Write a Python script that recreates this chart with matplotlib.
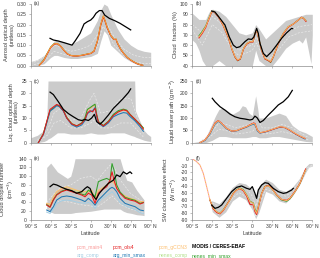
import numpy as np
import matplotlib
matplotlib.use("Agg")
import matplotlib.pyplot as plt

plt.rcParams['font.family'] = ['Liberation Sans', 'DejaVu Sans']

# ---------------- colours / names ----------------
series_names = ["pcm_main4", "pcm_ols4", "pcm_gCCN3", "MODIS / CERES-EBAF",
                "arg_comp", "arg_min_smax", "nenes_comp", "nenes_min_smax"]
series_colors = ["#fb9a99", "#e31a1c", "#fdbf6f", "#000000",
                 "#a6cee3", "#1f78b4", "#b2df8a", "#33a02c"]

xtick_vals = [-90, -60, -30, 0, 30, 60, 90]
xtick_labels = ["90° S", "60° S", "30° S", "0", "30° N", "60° N", "90° N"]

# ---------------- (a) aerosol optical depth ----------------
a_env_lat = [-90, -80, -70, -60, -55, -50, -45, -40, -30, -20, -10, 0, 10, 15, 20, 25, 30, 40, 50, 60, 70, 80, 90]
a_env_hi = [0.02, 0.03, 0.05, 0.09, 0.12, 0.125, 0.12, 0.115, 0.105, 0.12, 0.14, 0.16, 0.22, 0.27, 0.30, 0.29, 0.25, 0.18, 0.13, 0.10, 0.08, 0.07, 0.065]
a_env_lo = [0.0, 0.0, 0.01, 0.04, 0.05, 0.05, 0.045, 0.04, 0.035, 0.035, 0.04, 0.045, 0.06, 0.12, 0.17, 0.15, 0.10, 0.07, 0.04, 0.02, 0.005, 0.0, 0.0]
a_mem_lat = [-90, -70, -55, -45, -30, -15, 0, 10, 18, 25, 35, 50, 65, 80, 90]
a_mem1 = [0.01, 0.04, 0.10, 0.09, 0.07, 0.08, 0.10, 0.15, 0.23, 0.20, 0.14, 0.08, 0.05, 0.04, 0.04]
a_mem2 = [0.0, 0.02, 0.07, 0.06, 0.045, 0.05, 0.06, 0.09, 0.19, 0.17, 0.10, 0.05, 0.02, 0.01, 0.01]
a_lat = [-77, -70, -65, -60, -55, -50, -45, -40, -35, -30, -25, -20, -15, -10, -5, 0, 5, 10, 15, 19, 22, 25, 30, 35, 38, 40, 45, 50, 55, 60, 65, 70, 75, 78]
a_gccn3 = [0.002, 0.028, 0.060, 0.090, 0.106, 0.108, 0.095, 0.075, 0.058, 0.050, 0.048, 0.048, 0.050, 0.053, 0.057, 0.060, 0.072, 0.120, 0.200, 0.243, 0.215, 0.185, 0.148, 0.128, 0.130, 0.112, 0.080, 0.058, 0.040, 0.028, 0.018, 0.010, 0.004, 0.002]
a_ols4 = [0.002, 0.027, 0.058, 0.088, 0.104, 0.107, 0.094, 0.074, 0.057, 0.049, 0.047, 0.047, 0.049, 0.052, 0.056, 0.059, 0.070, 0.118, 0.196, 0.238, 0.212, 0.182, 0.146, 0.127, 0.128, 0.110, 0.079, 0.057, 0.039, 0.027, 0.017, 0.009, 0.004, 0.002]
a_nmin = [0.003, 0.030, 0.061, 0.091, 0.107, 0.108, 0.095, 0.075, 0.058, 0.050, 0.048, 0.048, 0.050, 0.053, 0.057, 0.060, 0.072, 0.119, 0.199, 0.241, 0.214, 0.184, 0.147, 0.128, 0.129, 0.111, 0.080, 0.058, 0.040, 0.028, 0.018, 0.010, 0.004, 0.002]
a_obs_lat = [-61, -56, -48.5, -40, -33, -28, -23, -16, -10, -5, 0, 4, 8, 13, 17, 21, 28, 36, 44, 52, 60]
a_obs = [0.133, 0.125, 0.120, 0.112, 0.105, 0.100, 0.122, 0.157, 0.203, 0.214, 0.222, 0.235, 0.255, 0.268, 0.268, 0.246, 0.230, 0.219, 0.206, 0.190, 0.174]

# ---------------- (b) cloud fraction ----------------
b_env_lat = [-90, -85, -80, -75, -70, -65, -60, -50, -40, -30, -20, -10, 0, 5, 10, 20, 30, 40, 50, 60, 70, 75, 80, 88, 90]
b_env_hi = [91, 88, 85, 85, 85, 92, 95, 93, 88, 80, 72, 70, 72, 80, 76, 66, 72, 78, 84, 86, 88, 89, 90, 90, 90]
b_env_lo = [65, 62, 55, 45, 40, 40, 40, 45, 40, 40, 40, 40, 40, 55, 45, 40, 40, 48, 57, 62, 65, 62, 68, 42, 70]
b_mem_lat = [-90, -75, -60, -45, -30, -20, -10, 0, 6, 15, 25, 40, 55, 70, 90]
b_mem1 = [80, 72, 88, 80, 62, 55, 58, 60, 68, 55, 50, 62, 74, 78, 80]
b_mem2 = [75, 60, 80, 72, 55, 50, 52, 55, 62, 50, 46, 56, 68, 72, 74]
b_lat = [-80, -75, -70, -65, -61, -58, -51, -44, -36, -31, -26, -22, -18, -13, -8, -3, 1, 4, 6.5, 9, 14, 19, 24, 27.5, 31.5, 39, 46.5, 54, 61.5, 69, 74, 77.5, 80.5]
b_gccn3 = [68, 72.5, 78, 86, 92.5, 93, 88, 80, 68, 57, 49, 45.5, 47, 57, 61.7, 63.4, 63.4, 71.5, 74.7, 68.2, 55, 47, 45.5, 44, 48.8, 61.7, 71.5, 78, 80.5, 84.4, 87, 86, 83.8]
b_ols4 = [67, 71.5, 77, 85.5, 92, 92.8, 87.5, 79.5, 67.5, 56.5, 48.5, 45, 46.5, 56.5, 61.2, 63, 63, 71, 74.5, 68, 54.5, 46.5, 45, 43.5, 48.5, 61.2, 71, 77.5, 80.5, 84.4, 87.2, 85.5, 83]
b_nmin = [69, 73.5, 78.5, 86.5, 92.5, 93, 88, 80, 68, 57, 48.5, 44.8, 46.5, 57, 61.7, 63.4, 63.4, 71.5, 74.7, 68.2, 55, 46.8, 45, 43.2, 48.5, 61.7, 71.5, 78, 80.5, 84.4, 87, 86, 83.8]
b_obs_lat = [-61, -56, -48.5, -41, -34.5, -28.5, -23.5, -18.5, -11, -6, -1, 2.5, 6.5, 9, 11.5, 16.5, 21.5, 29, 36.5, 44, 51.5, 59, 60.5]
b_obs = [93.2, 92.2, 86, 79.6, 68, 60, 57.5, 58.5, 63.4, 66, 65.6, 68, 76.3, 71.5, 61.7, 52, 48.8, 53.6, 60, 66.6, 72, 76.3, 76]

# ---------------- (c) liquid cloud optical depth ----------------
c_env_lat = [-90, -80, -70, -66, -64, -60, -50, -40, -30, -20, -10, 0, 10, 20, 30, 40, 50, 60, 66, 67, 70, 75, 80, 85, 90]
c_env_hi = [2, 3, 5, 9, 25, 25, 25, 25, 25, 25, 25, 25, 25, 25, 25, 25, 25, 25, 25, 13, 11, 8, 5, 3.5, 2.5]
c_env_lo = [0, 0, 0.5, 1, 1.5, 2, 4, 4, 3.5, 3.5, 3.5, 4, 3.5, 3.5, 4, 4, 4, 3, 2.5, 2.3, 2, 1.5, 1, 0.7, 0.5]
c_mem_lat = [-80, -65, -55, -45, -30, -15, 0, 5, 15, 30, 45, 60, 70, 80]
c_mem1 = [1, 5, 12, 14, 9, 10, 18, 20, 12, 13, 18, 18, 10, 3]
c_mem2 = [0.5, 3, 8, 9, 6, 6, 8, 9, 6, 6, 8, 8, 5, 2]
c_lat = [-78.5, -71, -66, -61, -56, -51, -47, -41, -36, -28.5, -21, -13.5, -8.5, -5, -1, 3, 6.5, 9, 11.5, 19, 26.5, 34, 41.5, 49, 54, 59, 66.5, 74, 79]
c_gccn3 = [0, 3.8, 8.5, 13.2, 13.9, 15.3, 14.9, 13.2, 10.5, 7.8, 6.8, 7.8, 9.9, 13.2, 13.9, 14.6, 15.5, 11.2, 8.5, 6.8, 8.5, 11.2, 12.6, 13.2, 12.8, 11.2, 9.2, 7.2, 5.8]
c_ols4 = [0, 3.5, 8.5, 13.5, 14.5, 15.5, 15, 13, 10, 7.6, 6.8, 7.8, 9.5, 12, 13, 12.5, 14, 11, 8.3, 6.8, 8.5, 11, 12.5, 13.3, 13, 11.4, 9.5, 7.3, 5.5]
c_amin = [0, 3.3, 8, 12.8, 13.8, 15, 14.6, 12.8, 10, 7.3, 6.3, 7.2, 9, 11.8, 12.5, 13, 14.2, 10.5, 8, 6.5, 8, 10.5, 11.5, 12.2, 12, 10.6, 8.8, 6.5, 4.6]
c_nmin = [0, 3.6, 8.3, 13, 14, 15.2, 14.8, 13, 10.3, 7.7, 6.8, 8, 10.2, 13.5, 14.2, 15, 15.6, 11.5, 8.6, 7, 8.7, 11.5, 13, 13.6, 13.2, 11.5, 9.4, 7.5, 6]
c_obs_lat = [-61, -56, -48.5, -41, -33.5, -26, -18.5, -13.5, -8.5, -3.5, 1.5, 5.5, 9, 14, 19, 26.5, 34, 41.5, 49, 56.5, 60]
c_obs = [20.5, 19.5, 16.6, 13.5, 11.8, 10.5, 9.3, 9.0, 9.4, 9.0, 10.0, 11.5, 8.5, 7.5, 8.8, 11.2, 13.9, 15.9, 18, 20.3, 21.8]

# ---------------- (d) liquid water path ----------------
d_env_lat = [-90, -80, -70, -60, -55, -50, -45, -40, -30, -20, -15, -10, -5, 0, 5, 8, 10, 20, 30, 40, 50, 60, 70, 80, 90]
d_env_hi = [0, 5, 20, 80, 110, 135, 140, 135, 115, 130, 150, 145, 120, 110, 190, 140, 100, 100, 110, 120, 110, 70, 50, 40, 25]
d_env_lo = [0, 0, 0, 10, 18, 25, 25, 25, 20, 20, 20, 20, 22, 25, 25, 22, 20, 20, 25, 25, 20, 15, 10, 5, 3]
d_mem_lat = [-80, -65, -50, -40, -25, -10, 0, 5, 15, 30, 45, 60, 75, 85]
d_mem1 = [2, 30, 80, 75, 60, 70, 80, 110, 60, 60, 75, 60, 35, 20]
d_mem2 = [0, 20, 55, 50, 35, 40, 45, 60, 35, 38, 45, 35, 20, 10]
d_lat = [-78.5, -71, -63.5, -56, -51, -46, -38.5, -31, -23.5, -16, -8.5, -3.5, 1.5, 4, 7.5, 11.5, 19, 26.5, 34, 41.5, 49, 56.5, 64, 71.5, 79]
d_gccn3 = [0, 11, 38, 78, 89, 78, 58, 47, 49, 58, 65, 72, 78, 76, 51, 40.5, 44.6, 51, 58, 65, 62, 51, 38, 27, 17.6]
d_amin = [0, 9, 35, 75, 87, 76, 56, 46, 48, 56, 63, 70, 75, 72, 48, 39, 43, 50, 57, 63, 61, 50, 36, 25, 15]
d_ols4 = [0, 11, 39, 80, 90, 79, 58, 47, 49, 57, 65, 73, 80, 78, 52, 40, 44, 50, 57, 64, 61, 50, 37, 26, 17]
d_obs_lat = [-60, -56, -48.5, -41, -33.5, -26, -18.5, -11, -3.5, 0.5, 4, 7.5, 11.5, 16.5, 24, 31.5, 39, 46.5, 54, 60]
d_obs = [180, 166, 146, 132, 116, 105, 99, 96, 92, 95, 108, 100, 82, 90, 112, 132, 153, 166, 186, 212]

# ---------------- (e) cloud droplet number ----------------
e_env_lat = [-66, -60, -55, -50, -45, -40, -35, -30, -26, -23.5, 0, 20, 44, 49, 54, 61.5, 69, 76.5, 80]
e_env_hi = [120, 130, 120, 110, 105, 100, 95, 100, 122, 140, 140, 140, 140, 114, 91, 87, 68, 53, 46]
e_env_lo = [25, 18, 15, 15, 15, 15, 15, 15, 16, 17, 20, 25, 25, 20, 17, 15, 12, 11, 10]
e_mem_lat = [-66, -55, -45, -30, -15, 0, 10, 20, 32, 45, 60, 75, 80]
e_mem1 = [40, 60, 75, 80, 95, 100, 90, 110, 130, 90, 60, 45, 40]
e_mem2 = [20, 35, 45, 40, 35, 32, 30, 40, 55, 35, 25, 18, 15]
e_lat = [-66, -61, -56, -51, -43.5, -36, -28.5, -21, -13.5, -8.5, -3.5, 1.5, 6.5, 11.5, 16.5, 24, 29, 32, 35, 39, 44, 51.5, 59, 66.5, 74, 79]
e_main4 = [36.5, 32, 48, 60, 70, 72, 68, 63, 60, 56, 63, 60, 42, 63, 70, 78, 90, 95, 88, 74, 63, 52, 47, 44, 38, 41]
e_ols4 = [34, 29, 45.6, 57, 64.7, 68.5, 64.7, 61, 57, 53, 61, 57, 38, 61, 68, 76, 91, 110, 91, 72, 61, 49.5, 45.6, 43, 36.5, 39.5]
e_gccn3 = [38, 36, 53, 65, 72, 76, 72, 68, 65, 64.7, 66, 68.5, 49.5, 68, 72, 80, 85, 88, 84, 76, 62, 55, 50, 46, 42, 41.8]
e_acomp = [18, 15, 25, 38, 44, 45.6, 44, 41, 39, 38, 40, 36, 26.6, 40, 48, 56, 61, 64.7, 60, 52, 40, 33, 28, 24, 17, 15]
e_amin = [22.8, 19, 30.4, 45.6, 53, 54.8, 53, 49.5, 45.6, 42, 49.5, 43, 34, 45.6, 53, 64.7, 72, 74.6, 72, 64.7, 49.5, 38, 34, 30.4, 22.8, 21.3]
e_ncomp = [37, 34, 50, 62, 70, 74, 70, 66, 63, 61, 65, 64, 47, 66, 71, 79, 86, 90, 85, 75, 62, 54, 49, 45, 40, 41]
e_nmin = [35, 30, 46, 58, 66, 70, 66, 62, 59, 57, 68.5, 62, 53, 87.5, 91, 95, 91, 129, 114, 80, 64, 52, 48, 45, 38, 40]
e_obs_lat = [-61, -56, -51, -43.5, -36, -28.5, -21, -13.5, -8.5, -5, -1, 3, 8, 13, 19, 26.5, 34, 39, 44, 49, 54, 59, 61.5]
e_obs = [76, 82, 80, 74.6, 70, 67, 61, 64.7, 72, 76, 72, 57, 47, 61, 72, 83.7, 91, 103, 99, 110, 105, 110, 106.5]

# ---------------- (f) SW cloud radiative effect ----------------
f_env_lat = [-62, -60, -50, -40, -30, -20, -10, 0, 5, 10, 20, 30, 40, 50, 60, 70, 80, 85, 90]
f_env_hi = [-62, -62, -66, -56, -42, -35, -37, -45, -55, -40, -30, -35, -45, -48, -42, -30, -12, -7, -7]
f_env_lo = [-70, -78, -86, -78, -62, -55, -60, -75, -88, -78, -48, -52, -62, -65, -55, -40, -20, -12, -11]
f_mem_lat = [-60, -50, -40, -30, -20, -10, 0, 5, 10, 20, 30, 40, 50, 60, 70, 80, 90]
f_mem1 = [-65, -70, -62, -48, -40, -42, -55, -70, -55, -38, -42, -52, -55, -48, -35, -15, -9]
f_mem2 = [-75, -82, -72, -58, -50, -55, -68, -85, -70, -45, -48, -58, -62, -52, -38, -18, -10]
f_lat = [-90, -83.5, -78.5, -73.5, -68.5, -63.5, -58.5, -53.5, -48.5, -43.5, -38.5, -33.5, -28.5, -23.5, -18.5, -13.5, -8.5, -3.5, 1.5, 4, 6.5, 9, 14, 19, 24, 29, 36.5, 44, 51.5, 56.5, 64, 71.5, 76.5, 80]
f_gccn3 = [0, -4.4, -9.3, -21.5, -41, -60.6, -72.9, -77.8, -80.2, -75.3, -68, -60.6, -50.9, -46, -43.5, -46, -53.3, -63, -65.5, -75.3, -80.2, -70.4, -50.9, -41, -39.6, -43.5, -53.3, -59.7, -61.6, -58.2, -48.4, -36.2, -24, -16.6]
f_ols4 = [0, -4.4, -9.3, -21.5, -41, -61, -74, -79, -81, -76, -68, -60, -51, -46, -44, -47, -55, -67, -68, -78, -82, -72, -51, -41, -39, -43, -53, -60, -61, -58, -48, -36, -24, -15]
f_nmin = [0, -4.6, -9.6, -22, -42, -61, -73, -78, -80, -75, -67.5, -60, -50.5, -45.5, -43, -45.5, -53, -62.5, -65, -74, -79, -70, -50.5, -40.5, -39.5, -43.5, -53.5, -60.5, -62.5, -59, -48.5, -36.5, -24, -16.5]
f_obs_lat = [-61, -56, -51, -46, -38.5, -31, -23.5, -16, -8.5, -3.5, 0, 4, 6.5, 9, 14, 19, 24, 31.5, 39, 46.5, 51.5, 59, 61.5]
f_obs = [-68, -72.9, -71.4, -68, -58.2, -48.4, -42, -40, -43.5, -45, -41, -50.9, -58.2, -46, -38.6, -35.2, -36.2, -43.5, -48.4, -50.9, -49.9, -46, -43.5]

ENV_C = "#cbcbcb"
MEM_C = "#e9e9e9"
AX_C = "#8c8c8c"
TXT_C = "#3a3a3a"
FS = 3.6

W, H = 320, 258
fig = plt.figure(figsize=(W / 100, H / 100), dpi=100)


def px_axes(x0, y0, x1, y1):
    return fig.add_axes([x0 / W, 1 - y1 / H, (x1 - x0) / W, (y1 - y0) / H])


def style(ax, ylim, yticks, ytl, ylabel, letter, bottom):
    ax.set_xlim(-90, 90)
    ax.set_ylim(*ylim)
    ax.set_facecolor("none")
    for s in ["top", "right"]:
        ax.spines[s].set_visible(False)
    for s in ["left", "bottom"]:
        ax.spines[s].set_color(AX_C)
        ax.spines[s].set_linewidth(0.5)
    ax.set_xticks(xtick_vals)
    ax.set_yticks(yticks)
    ax.set_yticklabels(ytl)
    if bottom:
        ax.set_xticklabels(xtick_labels)
        ax.set_xlabel("Latitude", fontsize=4.0, color=TXT_C, labelpad=1.5)
    else:
        ax.set_xticklabels([])
    ax.tick_params(axis="both", length=1.6, width=0.4, color=AX_C, labelsize=FS,
                   labelcolor=TXT_C, pad=1.2, direction="out")
    ax.set_ylabel(ylabel, fontsize=4.1, color=TXT_C, labelpad=1.5, linespacing=1.1)
    ax.text(0.025, 1.0, letter, transform=ax.transAxes, fontsize=FS, color=TXT_C,
            ha="left", va="center")


def env(ax, lat, lo, hi, mlat, m1, m2):
    ax.fill_between(lat, lo, hi, color=ENV_C, lw=0, zorder=1)
    ax.plot(mlat, m1, color=MEM_C, lw=0.5, ls=(0, (3, 2)), zorder=2)
    ax.plot(mlat, m2, color=MEM_C, lw=0.5, ls=(0, (3, 2)), zorder=2)


LW = 0.75
# (a)
ax = px_axes(30.7, 4, 150.7, 65.7)
env(ax, a_env_lat, a_env_lo, a_env_hi, a_mem_lat, a_mem1, a_mem2)
ax.plot(a_lat, a_nmin, color=series_colors[7], lw=LW, zorder=3)
ax.plot(a_lat, a_ols4, color=series_colors[1], lw=LW, zorder=3)
ax.plot(a_lat, a_gccn3, color="#ff9a3c", lw=LW, zorder=4)
ax.plot(a_obs_lat, a_obs, color="black", lw=0.9, zorder=5)
style(ax, (0, 0.30), [0, 0.05, 0.10, 0.15, 0.20, 0.25, 0.30],
      ["0.00", "0.05", "0.10", "0.15", "0.20", "0.25", "0.30"],
      "Aerosol optical depth\n(unitless)", "(a)", False)

# (b)
ax = px_axes(192.3, 4, 312.3, 65.7)
env(ax, b_env_lat, b_env_lo, b_env_hi, b_mem_lat, b_mem1, b_mem2)
ax.plot(b_lat, b_nmin, color=series_colors[7], lw=LW, zorder=3)
ax.plot(b_lat, b_ols4, color=series_colors[1], lw=LW, zorder=3)
ax.plot(b_lat, b_gccn3, color="#fdae61", lw=LW, zorder=4)
ax.plot(b_obs_lat, b_obs, color="black", lw=0.9, zorder=5)
style(ax, (40, 100), [40, 50, 60, 70, 80, 90, 100],
      ["40", "50", "60", "70", "80", "90", "100"],
      "Cloud  fraction (%)", "(b)", False)

# (c)
ax = px_axes(30.7, 81, 150.7, 142.7)
env(ax, c_env_lat, c_env_lo, c_env_hi, c_mem_lat, c_mem1, c_mem2)
ax.plot(c_lat, c_gccn3, color="#fdae61", lw=LW, zorder=3)
ax.plot(c_lat, c_nmin, color=series_colors[7], lw=LW, zorder=3)
ax.plot(c_lat, c_amin, color=series_colors[5], lw=LW, zorder=4)
ax.plot(c_lat, c_ols4, color=series_colors[1], lw=LW, zorder=4)
ax.plot(c_obs_lat, c_obs, color="black", lw=0.9, zorder=5)
style(ax, (0, 25), [0, 5, 10, 15, 20, 25], ["0", "5", "10", "15", "20", "25"],
      "Liq. cloud optical depth\n(unitless)", "(c)", False)

# (d)
ax = px_axes(192.3, 81, 312.3, 142.7)
env(ax, d_env_lat, d_env_lo, d_env_hi, d_mem_lat, d_mem1, d_mem2)
ax.plot(d_lat, d_amin, color=series_colors[5], lw=LW, zorder=3)
ax.plot(d_lat, d_ols4, color=series_colors[1], lw=LW, zorder=3)
ax.plot(d_lat, d_gccn3, color="#fdae61", lw=LW, zorder=4)
ax.plot(d_obs_lat, d_obs, color="black", lw=0.9, zorder=5)
style(ax, (0, 250), [0, 50, 100, 150, 200, 250], ["0", "50", "100", "150", "200", "250"],
      "Liquid water path (g m$^{-2}$)", "(d)", False)

# (e)
ax = px_axes(30.7, 158.7, 150.7, 220)
env(ax, e_env_lat, e_env_lo, e_env_hi, e_mem_lat, e_mem1, e_mem2)
ax.plot(e_lat, e_acomp, color=series_colors[4], lw=LW, zorder=3)
ax.plot(e_lat, e_ncomp, color=series_colors[6], lw=LW, zorder=3)
ax.plot(e_lat, e_main4, color=series_colors[0], lw=LW, zorder=3)
ax.plot(e_lat, e_gccn3, color=series_colors[2], lw=LW, zorder=3)
ax.plot(e_lat, e_amin, color=series_colors[5], lw=LW, zorder=4)
ax.plot(e_lat, e_nmin, color=series_colors[7], lw=LW, zorder=4)
ax.plot(e_lat, e_ols4, color=series_colors[1], lw=LW, zorder=4)
ax.plot(e_obs_lat, e_obs, color="black", lw=0.9, zorder=5)
style(ax, (0, 140), [0, 20, 40, 60, 80, 100, 120, 140],
      ["0", "20", "40", "60", "80", "100", "120", "140"],
      "Cloud droplet number\n(cm$^{-3}$)", "(e)", True)

# (f)
ax = px_axes(192.3, 158.7, 312.3, 220)
env(ax, f_env_lat, f_env_lo, f_env_hi, f_mem_lat, f_mem1, f_mem2)
k = 6  # dashed part poleward of ~60S
ax.plot(f_lat[:k], f_ols4[:k], color=series_colors[0], lw=LW, ls=(0, (2, 2)), zorder=3)
ax.plot(f_lat[:k], f_gccn3[:k], color="#fdae61", lw=LW, ls=(2, (2, 2)), zorder=3)
ax.plot(f_lat[k - 1:], f_nmin[k - 1:], color=series_colors[7], lw=LW, zorder=3)
ax.plot(f_lat[k - 1:], f_ols4[k - 1:], color=series_colors[1], lw=LW, zorder=3)
ax.plot(f_lat[k - 1:], f_gccn3[k - 1:], color="#fdae61", lw=LW, zorder=4)
ax.plot(f_obs_lat, f_obs, color="black", lw=0.9, zorder=5)
style(ax, (-90, 0), [0, -10, -20, -30, -40, -50, -60, -70, -80, -90],
      ["0", "-10", "-20", "-30", "-40", "-50", "-60", "-70", "-80", "-90"],
      "SW cloud radiative effect\n(W m$^{-2}$)", "(f)", True)

# legend (coloured text)
leg_x = [77, 113, 159, 192]
leg_y = [247, 255.5]
for i, (name, col) in enumerate(zip(series_names, series_colors)):
    r, c = divmod(i, 4)
    fig.text(leg_x[c] / W, 1 - leg_y[r] / H, name, color=col, fontsize=FS,
             fontweight="bold" if name.startswith("MODIS") else "normal",
             ha="left", va="center")

fig.savefig("out.png", dpi=100)
